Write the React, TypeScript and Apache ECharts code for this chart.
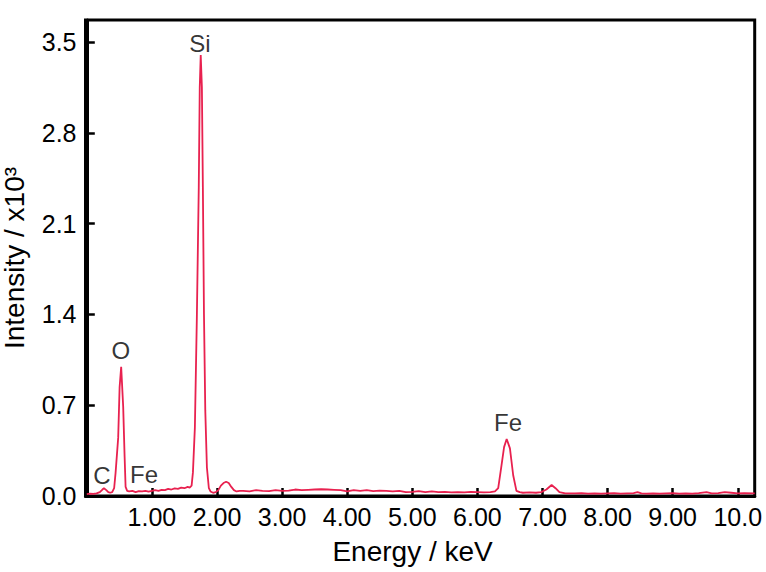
import React, { useEffect, useRef } from "react";
import * as echarts from "echarts";

// Energy (keV) of each spectrum point
const energy: number[] = [
  0.0, 0.05, 0.1, 0.15, 0.2, 0.24, 0.263, 0.3, 0.33, 0.36, 0.39, 0.42, 0.442, 0.482, 0.504, 0.528, 0.559, 0.581, 0.596, 0.62,
  0.65, 0.7, 0.75, 0.8, 0.85, 0.9, 0.95, 1.0, 1.05, 1.1, 1.15, 1.2, 1.25, 1.3, 1.35, 1.4, 1.45, 1.5, 1.55, 1.58, 1.61,
  1.63, 1.66, 1.69, 1.72, 1.735, 1.75, 1.768, 1.783, 1.8, 1.82, 1.845, 1.875, 1.9, 1.94, 1.98, 2.02, 2.06, 2.1, 2.14, 2.18, 2.22, 2.26, 2.3, 2.35,
  2.4, 2.5, 2.6, 2.7, 2.8, 2.9, 3.0, 3.1, 3.2, 3.3, 3.4, 3.5, 3.6, 3.7, 3.8, 3.9, 4.0, 4.1, 4.2, 4.3, 4.4, 4.5, 4.6, 4.7, 4.8, 4.9,
  5.0, 5.1, 5.2, 5.3, 5.4, 5.5, 5.6, 5.7, 5.8, 5.9, 6.0, 6.1, 6.2, 6.27,
  6.32, 6.37, 6.41, 6.45, 6.5, 6.55, 6.6, 6.65, 6.7, 6.8, 6.9, 6.98, 7.06, 7.14, 7.2, 7.26, 7.35,
  7.5, 7.6, 7.7, 7.8, 7.9, 8.0, 8.1, 8.2, 8.3, 8.4, 8.46, 8.52, 8.6, 8.7, 8.8, 8.9, 9.0, 9.1, 9.2, 9.3, 9.4, 9.52, 9.6, 9.7, 9.8, 9.9, 10.0, 10.1, 10.26,
];

// Intensity (x10^3 counts)
const intensity: number[] = [
  0.015, 0.018, 0.016, 0.02, 0.03, 0.05, 0.06, 0.045, 0.03, 0.025, 0.03, 0.06, 0.178, 0.448, 0.84, 0.996, 0.687, 0.3, 0.07, 0.04,
  0.035, 0.04, 0.03, 0.038, 0.035, 0.04, 0.033, 0.04, 0.045, 0.04, 0.048, 0.045, 0.055, 0.05, 0.058, 0.055, 0.065, 0.06, 0.07, 0.065, 0.08,
  0.18, 0.525, 1.36, 2.38, 3.15, 3.4, 3.15, 2.38, 1.4, 0.66, 0.22, 0.06, 0.035, 0.025, 0.03, 0.045, 0.08, 0.1, 0.11, 0.1, 0.07, 0.045, 0.035, 0.04,
  0.04, 0.035, 0.045, 0.04, 0.038, 0.045, 0.04, 0.042, 0.05, 0.045, 0.048, 0.05, 0.052, 0.05, 0.048, 0.045, 0.035, 0.045, 0.04, 0.045, 0.038, 0.042, 0.04, 0.035, 0.04, 0.03,
  0.032, 0.038, 0.03, 0.035, 0.03, 0.032, 0.028, 0.03, 0.028, 0.032, 0.03, 0.028, 0.03, 0.035,
  0.06, 0.235, 0.377, 0.44, 0.367, 0.16, 0.04, 0.03, 0.025, 0.028, 0.025, 0.03, 0.05, 0.085, 0.06, 0.03, 0.02,
  0.02, 0.022, 0.018, 0.02, 0.018, 0.02, 0.022, 0.018, 0.02, 0.022, 0.03, 0.02, 0.018, 0.02, 0.018, 0.02, 0.022, 0.018, 0.02, 0.018, 0.022, 0.03, 0.02, 0.022, 0.03, 0.025, 0.02, 0.022, 0.02,
];

// Peak annotations
const peakNames: string[] = ["Si", "O", "C", "Fe", "Fe"];
const peakX: number[] = [1.737, 0.524, 0.232, 0.88, 6.47];
const peakY: number[] = [3.49, 1.12, 0.158, 0.162, 0.567];

// Axis ticks
const xTicks: number[] = [1, 2, 3, 4, 5, 6, 7, 8, 9, 10];
const yTicks: number[] = [0, 0.7, 1.4, 2.1, 2.8, 3.5];

const FONT = "Liberation Sans, Arial, sans-serif";

export default function App() {
  const ref = useRef<HTMLDivElement>(null);
  useEffect(() => {
    if (!ref.current) return;
    const chart = echarts.init(ref.current, undefined, { renderer: "svg" });
    const lineData = energy.map((e, i) => [e, intensity[i]]);
    const labelData = peakNames.map((n, i) => ({ name: n, value: [peakX[i], peakY[i]] }));
    chart.setOption({
      animation: false,
      backgroundColor: "#ffffff",
      textStyle: { fontFamily: FONT },
      grid: {
        left: 85.5,
        right: 11.3,
        top: 20,
        bottom: 76,
        show: true,
        borderColor: "#000",
        borderWidth: 3,
        containLabel: false,
        outerBoundsMode: "none",
      },
      xAxis: {
        type: "value",
        min: -0.02,
        max: 10.26,
        name: "Energy / keV",
        nameLocation: "middle",
        nameGap: 41,
        nameTextStyle: { fontSize: 28, color: "#000", fontFamily: FONT, padding: [0, 15, 0, 0] },
        axisLine: { show: true, lineStyle: { color: "#000", width: 3 } },
        axisTick: {
          show: true,
          inside: true,
          length: 8,
          lineStyle: { color: "#000", width: 2.5 },
          customValues: xTicks,
        },
        axisLabel: {
          fontSize: 25,
          color: "#000",
          fontFamily: FONT,
          margin: 8,
          customValues: xTicks,
          formatter: (v: number) => (v >= 10 ? v.toFixed(1) : v.toFixed(2)),
        },
        splitLine: { show: false },
      },
      yAxis: {
        type: "value",
        min: 0,
        max: 3.67,
        name: "Intensity / x10³",
        nameLocation: "middle",
        nameGap: 57,
        nameTextStyle: { fontSize: 28, color: "#000", fontFamily: FONT },
        axisLine: { show: true, lineStyle: { color: "#000", width: 3 } },
        axisTick: {
          show: true,
          inside: true,
          length: 8,
          lineStyle: { color: "#000", width: 2.5 },
          customValues: yTicks,
        },
        axisLabel: {
          fontSize: 25,
          color: "#000",
          fontFamily: FONT,
          margin: 9,
          customValues: yTicks,
          formatter: (v: number) => v.toFixed(1),
        },
        splitLine: { show: false },
      },
      series: [
        {
          type: "line",
          data: lineData,
          showSymbol: false,
          symbol: "none",
          lineStyle: { color: "#e8214f", width: 1.8 },
          z: 2,
        },
        {
          type: "scatter",
          data: labelData,
          symbolSize: 0,
          label: {
            show: true,
            position: "inside",
            formatter: (p: any) => p.name,
            fontSize: 24,
            color: "#000",
            fontFamily: FONT,
          },
          z: 3,
        },
      ],
    });
    return () => chart.dispose();
  }, []);
  return (
    <div
      ref={ref}
      style={{ position: "fixed", left: 0, top: 0, width: 766, height: 572, background: "#fff" }}
    />
  );
}
